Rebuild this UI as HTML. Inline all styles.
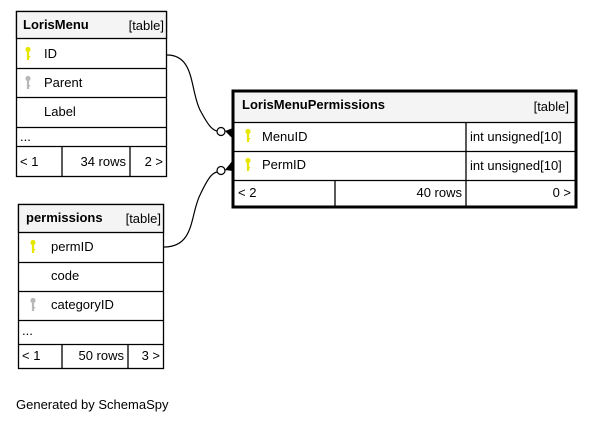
<!DOCTYPE html>
<html><head><meta charset="utf-8"><style>
html,body{margin:0;padding:0;background:#fff;width:593px;height:424px;overflow:hidden}
svg text{font-family:"Liberation Sans",Arial,sans-serif;font-size:13px;fill:#000}
.b{font-weight:bold}
.e{text-anchor:end}
</style></head><body>
<svg width="593" height="424" viewBox="0 0 593 424" xmlns="http://www.w3.org/2000/svg">
<defs>
<g id="ky"><circle cx="0" cy="2.5" r="2.6"/><rect x="-1.1" y="3" width="2.2" height="10"/><rect x="0" y="9" width="2.2" height="1.4"/></g>
</defs>
<g fill="none" stroke="#000" stroke-width="1.2">
<path d="M167,55 C195,55 190,90 200,110 C208,125 212,130 217,131"/>
<path d="M164,247 C195,247 190,215 200,195 C208,178 212,173 217,172"/>
</g>
<circle cx="221" cy="131.5" r="4" fill="#fff" stroke="#000" stroke-width="1.2"/>
<circle cx="221" cy="170.5" r="4" fill="#fff" stroke="#000" stroke-width="1.2"/>
<polygon points="225,131 233,128 233,139" fill="#000"/>
<polygon points="225,170 233,160 233,171" fill="#000"/>
<line x1="225" y1="131" x2="240" y2="135" stroke="#000"/>
<line x1="225" y1="170" x2="240" y2="166" stroke="#000"/>

<!-- LorisMenu -->
<g stroke="#000" stroke-width="1.3">
<rect x="16.5" y="11.5" width="150" height="165" fill="#fff"/>
<rect x="16.5" y="11.5" width="150" height="27" fill="#f4f4f4"/>
<line x1="16" y1="68.5" x2="167" y2="68.5"/>
<line x1="16" y1="97.5" x2="167" y2="97.5"/>
<line x1="16" y1="127.5" x2="167" y2="127.5"/>
<line x1="16" y1="146.5" x2="167" y2="146.5"/>
<line x1="62" y1="146" x2="62" y2="176"/>
<line x1="130" y1="146" x2="130" y2="176"/>
</g>
<text x="23" y="29" class="b">LorisMenu</text><text x="164" y="30" class="e">[table]</text>
<use href="#ky" x="28" y="47" fill="#e6e600"/><text x="44" y="58">ID</text>
<use href="#ky" x="28" y="76" fill="#b8b8b8"/><text x="44" y="87">Parent</text>
<text x="44" y="116">Label</text>
<text x="20" y="141">...</text>
<text x="20" y="166">&lt; 1</text><text x="126" y="166" class="e">34 rows</text><text x="163" y="166" class="e">2 &gt;</text>

<!-- permissions -->
<g stroke="#000" stroke-width="1.3">
<rect x="18.5" y="204.5" width="145" height="164" fill="#fff"/>
<rect x="18.5" y="204.5" width="145" height="28" fill="#f4f4f4"/>
<line x1="18" y1="262.5" x2="164" y2="262.5"/>
<line x1="18" y1="291.5" x2="164" y2="291.5"/>
<line x1="18" y1="320.5" x2="164" y2="320.5"/>
<line x1="18" y1="344.5" x2="164" y2="344.5"/>
<line x1="62" y1="344" x2="62" y2="369"/>
<line x1="128" y1="344" x2="128" y2="369"/>
</g>
<text x="26" y="222" class="b">permissions</text><text x="161" y="223" class="e">[table]</text>
<use href="#ky" x="33" y="240" fill="#e6e600"/><text x="51" y="251">permID</text>
<text x="51" y="280">code</text>
<use href="#ky" x="33" y="298" fill="#b8b8b8"/><text x="51" y="309">categoryID</text>
<text x="22" y="335">...</text>
<text x="22" y="360">&lt; 1</text><text x="124" y="360" class="e">50 rows</text><text x="160" y="360" class="e">3 &gt;</text>

<!-- LorisMenuPermissions -->
<g stroke="#000" stroke-width="1.3">
<rect x="233.5" y="91.5" width="342" height="115" fill="#fff"/>
<rect x="234" y="92" width="341" height="30" fill="#f4f4f4" stroke="none"/>
<line x1="233" y1="122.5" x2="576" y2="122.5"/>
<line x1="233" y1="151.5" x2="576" y2="151.5"/>
<line x1="233" y1="180.5" x2="576" y2="180.5"/>
<line x1="466" y1="122" x2="466" y2="206"/>
<line x1="335" y1="180" x2="335" y2="206"/>
</g>
<rect x="233" y="91" width="343" height="116" fill="none" stroke="#000" stroke-width="3"/>
<text x="242" y="109" class="b">LorisMenuPermissions</text><text x="569" y="111" class="e">[table]</text>
<use href="#ky" x="248" y="129" fill="#e6e600"/><text x="262" y="141">MenuID</text>
<text x="470" y="141">int unsigned[10]</text>
<use href="#ky" x="248" y="158" fill="#e6e600"/><text x="262" y="169">PermID</text>
<text x="470" y="170">int unsigned[10]</text>
<text x="238" y="197">&lt; 2</text><text x="462" y="197" class="e">40 rows</text><text x="571" y="197" class="e">0 &gt;</text>

<text x="16" y="409">Generated by SchemaSpy</text>
</svg>
</body></html>
